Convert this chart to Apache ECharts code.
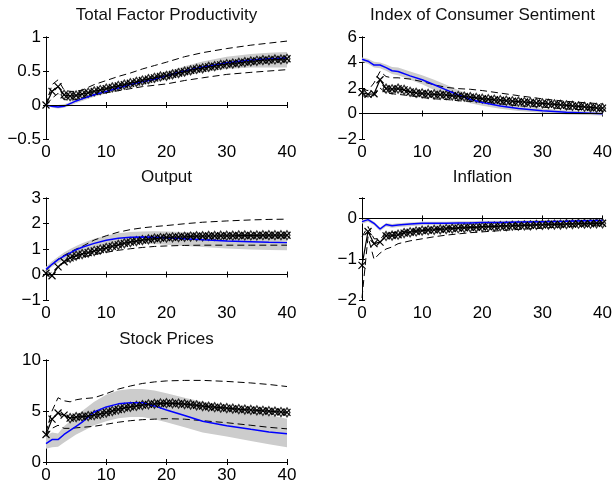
<!DOCTYPE html>
<html><head><meta charset="utf-8">
<script src="https://cdn.jsdelivr.net/npm/echarts@6/dist/echarts.min.js"></script>
<style>html,body{margin:0;padding:0;background:#fff}#c{width:615px;height:485px}</style>
</head><body><div id="c"></div>
<script>
// ---------- data ----------
const periods = [0,1,2,3,4,5,6,7,8,9,10,11,12,13,14,15,16,17,18,19,20,21,22,23,24,25,26,27,28,29,30,31,32,33,34,35,36,37,38,39,40];
const knots   = [0,1,2,3,4,5,6,8,10,12,14,16,18,20,23,26,30,34,37,40];
const titles  = ['Total Factor Productivity','Index of Consumer Sentiment','Output','Inflation','Stock Prices'];
const xTicks  = [0,10,20,30,40];
const yMins   = [-0.5,-2,-1,-2,0];
const yMaxs   = [1,6,3,0.5,10];
const ySteps  = [0.5,2,1,1,5];

// Total Factor Productivity
const tfpBlue   = [0,-0.02,-0.03,-0.02,0.02,0.06,0.09,0.15,0.2,0.25,0.3,0.34,0.38,0.43,0.5,0.56,0.62,0.66,0.68,0.69];
const tfpBandLo = [0,-0.04,-0.05,-0.04,-0.01,0.03,0.06,0.12,0.17,0.21,0.25,0.29,0.33,0.37,0.43,0.48,0.53,0.55,0.55,0.55];
const tfpBandHi = [0,0,0,0.01,0.04,0.08,0.12,0.18,0.24,0.29,0.34,0.39,0.44,0.49,0.57,0.64,0.71,0.75,0.77,0.78];
const tfpDashHi = [0,0.3,0.37,0.22,0.2,0.2,0.22,0.3,0.36,0.42,0.47,0.53,0.58,0.63,0.71,0.77,0.83,0.88,0.91,0.94];
const tfpDashLo = [0,0.1,0.17,0.08,0.07,0.08,0.1,0.15,0.18,0.21,0.24,0.27,0.29,0.31,0.36,0.4,0.45,0.48,0.5,0.52];
const tfpMarks  = [0,0.2,0.27,0.15,0.13,0.14,0.16,0.18,0.2,0.22,0.24,0.26,0.28,0.3,0.32,0.34,0.36,0.38,0.4,0.42,0.43,0.45,0.47,0.49,0.51,0.53,0.54,0.56,0.57,0.59,0.6,0.61,0.62,0.63,0.64,0.65,0.66,0.66,0.67,0.67,0.68];

// Index of Consumer Sentiment
const icsBlue   = [4.25,4.1,3.8,3.8,3.6,3.35,3.3,2.95,2.65,2.25,1.85,1.45,1.12,0.86,0.59,0.4,0.22,0.1,0.04,-0.02];
const icsBandLo = [4.05,3.9,3.6,3.55,3.35,3.1,3.0,2.65,2.3,1.85,1.45,1.1,0.8,0.6,0.38,0.2,0.05,-0.08,-0.12,-0.15];
const icsBandHi = [4.4,4.3,4.05,4.0,3.85,3.65,3.6,3.3,3.0,2.65,2.25,1.85,1.5,1.2,0.88,0.62,0.4,0.25,0.18,0.12];
const icsDashHi = [1.9,1.8,2.4,3.3,2.9,2.8,2.8,2.7,2.5,2.25,2.05,1.95,1.9,1.8,1.6,1.4,1.15,0.95,0.85,0.75];
const icsDashLo = [1.4,1.3,1.4,2.0,1.6,1.55,1.5,1.4,1.25,1.15,1.1,1.0,0.95,0.9,0.75,0.6,0.5,0.35,0.3,0.25];
const icsMarks  = [1.65,1.5,1.55,2.65,1.95,1.9,1.95,1.85,1.7,1.62,1.57,1.53,1.5,1.47,1.44,1.4,1.37,1.33,1.28,1.22,1.16,1.12,1.08,1.04,1.0,0.96,0.93,0.9,0.86,0.82,0.79,0.76,0.72,0.68,0.64,0.6,0.56,0.52,0.48,0.44,0.42];

// Output
const outBlue   = [0.2,0.4,0.58,0.72,0.85,0.97,1.07,1.22,1.34,1.42,1.46,1.47,1.46,1.44,1.4,1.36,1.31,1.28,1.26,1.25];
const outBandLo = [0.1,0.3,0.45,0.58,0.7,0.8,0.9,1.03,1.13,1.2,1.22,1.22,1.2,1.17,1.12,1.08,1.02,0.98,0.96,0.95];
const outBandHi = [0.3,0.52,0.7,0.86,1.0,1.12,1.23,1.4,1.53,1.62,1.67,1.69,1.7,1.69,1.67,1.65,1.62,1.6,1.6,1.6];
const outDashHi = [0.15,0.4,0.6,0.75,0.88,1.0,1.1,1.35,1.52,1.66,1.76,1.83,1.88,1.92,1.99,2.05,2.1,2.14,2.16,2.17];
const outDashLo = [-0.1,0.1,0.3,0.45,0.55,0.62,0.68,0.78,0.87,0.95,1.01,1.06,1.1,1.12,1.14,1.15,1.15,1.15,1.15,1.15];
const outMarks  = [0.05,-0.05,0.3,0.5,0.65,0.74,0.8,0.86,0.92,0.98,1.04,1.1,1.16,1.22,1.27,1.31,1.35,1.38,1.41,1.43,1.45,1.46,1.47,1.48,1.49,1.5,1.5,1.51,1.51,1.52,1.52,1.52,1.53,1.53,1.53,1.53,1.54,1.54,1.54,1.54,1.54];

// Inflation
const infBlue   = [-0.08,-0.03,-0.12,-0.26,-0.15,-0.18,-0.16,-0.14,-0.12,-0.12,-0.12,-0.11,-0.11,-0.1,-0.1,-0.09,-0.08,-0.07,-0.06,-0.05];
const infBandLo = [-0.13,-0.08,-0.17,-0.31,-0.2,-0.23,-0.21,-0.19,-0.17,-0.17,-0.17,-0.16,-0.16,-0.15,-0.15,-0.14,-0.13,-0.12,-0.11,-0.1];
const infBandHi = [-0.04,0.01,-0.08,-0.22,-0.11,-0.14,-0.12,-0.1,-0.08,-0.08,-0.08,-0.07,-0.07,-0.06,-0.06,-0.05,-0.04,-0.03,-0.02,-0.01];
const infDashHi = [-0.45,-0.2,-0.5,-0.5,-0.38,-0.35,-0.34,-0.3,-0.27,-0.25,-0.23,-0.22,-0.21,-0.2,-0.18,-0.17,-0.15,-0.13,-0.12,-0.11];
const infDashLo = [-1.95,-0.45,-1.0,-0.85,-0.75,-0.7,-0.62,-0.55,-0.5,-0.45,-0.41,-0.38,-0.35,-0.33,-0.3,-0.27,-0.24,-0.2,-0.18,-0.16];
const infMarks  = [-1.15,-0.32,-0.62,-0.58,-0.43,-0.42,-0.4,-0.36,-0.34,-0.32,-0.3,-0.29,-0.28,-0.27,-0.26,-0.25,-0.24,-0.23,-0.22,-0.22,-0.21,-0.2,-0.2,-0.19,-0.19,-0.18,-0.18,-0.17,-0.17,-0.16,-0.16,-0.15,-0.15,-0.15,-0.14,-0.14,-0.13,-0.13,-0.13,-0.12,-0.12];

// Stock Prices
const stkBlue   = [1.8,2.2,2.2,2.7,3.1,3.5,3.9,4.9,5.4,5.7,5.82,5.8,5.5,5.1,4.55,4.0,3.55,3.2,2.95,2.77];
const stkBandLo = [1.3,1.45,1.5,1.9,2.3,2.7,3.0,3.6,4.0,4.3,4.4,4.4,4.2,3.9,3.4,2.9,2.5,2.05,1.75,1.45];
const stkBandHi = [2.6,2.9,2.8,3.5,4.0,4.5,5.0,5.9,6.6,7.0,7.15,7.15,7.0,6.75,6.3,5.9,5.4,4.95,4.6,4.25];
const stkDashHi = [2.9,5.0,6.3,6.0,5.9,6.1,6.2,6.3,6.7,7.15,7.45,7.7,7.85,7.95,8.0,8.0,7.9,7.75,7.6,7.4];
const stkDashLo = [2.5,3.3,3.6,3.3,3.3,3.35,3.4,3.5,3.7,3.9,4.05,4.15,4.2,4.25,4.2,4.05,3.85,3.6,3.4,3.25];
const stkMarks  = [2.7,4.2,4.8,4.6,4.3,4.4,4.45,4.5,4.6,4.7,4.85,5.0,5.15,5.3,5.4,5.5,5.58,5.65,5.7,5.74,5.76,5.75,5.72,5.68,5.63,5.55,5.48,5.42,5.37,5.33,5.28,5.23,5.18,5.14,5.1,5.06,5.02,4.98,4.94,4.9,4.86];

const diamondFrom = [3,4,4,4,4];

// ---------- layout / style ----------
const panels = [
  {blue:tfpBlue, lo:tfpBandLo, hi:tfpBandHi, dHi:tfpDashHi, dLo:tfpDashLo, marks:tfpMarks},
  {blue:icsBlue, lo:icsBandLo, hi:icsBandHi, dHi:icsDashHi, dLo:icsDashLo, marks:icsMarks},
  {blue:outBlue, lo:outBandLo, hi:outBandHi, dHi:outDashHi, dLo:outDashLo, marks:outMarks},
  {blue:infBlue, lo:infBandLo, hi:infBandHi, dHi:infDashHi, dLo:infDashLo, marks:infMarks},
  {blue:stkBlue, lo:stkBandLo, hi:stkBandHi, dHi:stkDashHi, dLo:stkDashLo, marks:stkMarks}
];
const gridPos = [
  {left:46, top:37, width:241, height:102},
  {left:362, top:37, width:241, height:102},
  {left:46, top:198, width:241, height:102},
  {left:362, top:198, width:241, height:102},
  {left:46, top:360, width:241, height:102}
];
const titleTop = [7,7,169,169,331];
const FONT = '"Liberation Sans", Arial, Helvetica, sans-serif';
const FS = 17;
const xPath = 'path://M0,0L10,10M10,0L0,10';

const grid = [], xAxis = [], yAxis = [], series = [], title = [];
panels.forEach((p, i) => {
  const g = gridPos[i];
  grid.push(Object.assign({containLabel:false}, g));
  title.push({text:titles[i], left:g.left + g.width/2, top:titleTop[i], textAlign:'center', padding:0,
    textStyle:{fontFamily:FONT, fontSize:FS, fontWeight:'normal', color:'#111'}});
  const axLine = {show:true, lineStyle:{color:'#000', width:1}};
  const tick = {show:true, inside:true, length:3, lineStyle:{color:'#000', width:1}};
  xAxis.push({type:'value', gridIndex:i, position:'bottom', min:xTicks[0], max:xTicks[xTicks.length-1], interval:xTicks[1]-xTicks[0],
    axisLine:axLine, axisTick:tick, splitLine:{show:false},
    axisLabel:{color:'#000', fontFamily:FONT, fontSize:FS, margin:5}});
  xAxis.push({type:'value', gridIndex:i, position:'top', min:xTicks[0], max:xTicks[xTicks.length-1], interval:xTicks[1]-xTicks[0],
    axisLine:axLine, axisTick:tick, splitLine:{show:false}, axisLabel:{show:false}});
  const step = ySteps[i];
  const fmt = v => (Math.abs(v/step - Math.round(v/step)) > 1e-6) ? '' : String(v).replace('-', '\u2212');
  yAxis.push({type:'value', gridIndex:i, position:'left', min:yMins[i], max:yMaxs[i], interval:step,
    axisLine:axLine, axisTick:tick, splitLine:{show:false},
    axisLabel:{color:'#000', fontFamily:FONT, fontSize:FS, margin:5, formatter:fmt}});
  yAxis.push({type:'value', gridIndex:i, position:'right', min:yMins[i], max:yMaxs[i], interval:step,
    axisLine:axLine, axisTick:tick, splitLine:{show:false}, axisLabel:{show:false}});
  const xi = 2*i, yi = 2*i;
  const base = {xAxisIndex:xi, yAxisIndex:yi, silent:true, animation:false};
  // shaded band: polygon through upper then lower knots, positioned by the axes
  series.push(Object.assign({type:'custom', clip:true,
    data:knots.map((k,j)=>[k, p.lo[j], p.hi[j]]),
    encode:{x:0, y:[1,2]},
    renderItem:(params, api) => {
      if (params.dataIndexInside !== 0) return null;
      const pts = [];
      for (let j = 0; j < knots.length; j++) pts.push(api.coord([knots[j], p.hi[j]]));
      for (let j = knots.length - 1; j >= 0; j--) pts.push(api.coord([knots[j], p.lo[j]]));
      return {type:'polygon', shape:{points:pts}, style:{fill:'#cccccc', stroke:null}};
    }}, base));
  series.push(Object.assign({type:'line', symbol:'none', lineStyle:{color:'#000', width:1, type:[7,4]},
    data:knots.map((k,j)=>[k, p.dHi[j]]),
    markLine:{symbol:'none', silent:true, animation:false, label:{show:false},
      lineStyle:{color:'#000', width:1, type:'solid'}, data:[{yAxis:0}]}}, base));
  series.push(Object.assign({type:'line', symbol:'none', lineStyle:{color:'#000', width:1, type:[7,4]},
    data:knots.map((k,j)=>[k, p.dLo[j]])}, base));
  series.push(Object.assign({type:'line', symbol:'none', lineStyle:{color:'#0000ff', width:1.5},
    data:knots.map((k,j)=>[k, p.blue[j]])}, base));
  series.push(Object.assign({type:'scatter', symbol:'diamond', symbolSize:[6,9],
    itemStyle:{color:'rgba(0,0,0,0)', borderColor:'#000', borderWidth:1.3},
    data:periods.slice(diamondFrom[i]).map((t)=>[t, p.marks[t]])}, base));
  series.push(Object.assign({type:'line', symbol:xPath, symbolSize:7, showAllSymbol:true,
    itemStyle:{color:'rgba(0,0,0,0)', borderColor:'#000', borderWidth:1.2},
    lineStyle:{color:'#000', width:1.2},
    data:periods.map((t,j)=>[t, p.marks[j]])}, base));
});

const chart = echarts.init(document.getElementById('c'), null, {renderer:'canvas'});
chart.setOption({animation:false, backgroundColor:'#fff', title, grid, xAxis, yAxis, series});
</script>
</body></html>
